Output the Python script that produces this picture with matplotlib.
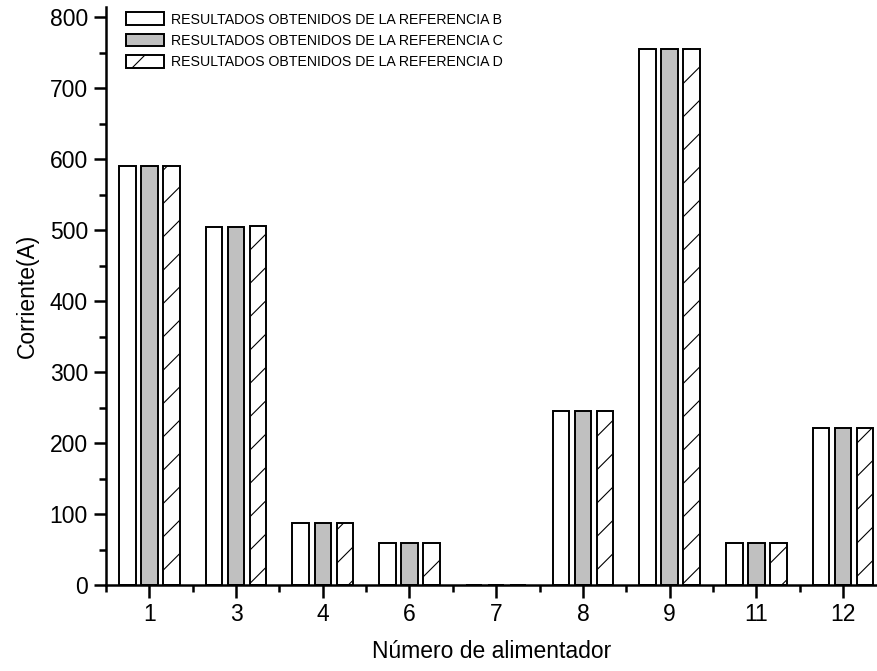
import numpy as np
import matplotlib.pyplot as plt
from matplotlib.ticker import MultipleLocator, FixedLocator

plt.rcParams['font.family'] = ['Liberation Sans', 'DejaVu Sans']
plt.rcParams['hatch.linewidth'] = 0.8

alimentadores = ['1', '3', '4', '6', '7', '8', '9', '11', '12']
ref_b = [591, 505, 87, 59, 0, 246, 755, 59, 221]
ref_c = [591, 505, 87, 59, 0, 246, 755, 59, 221]
ref_d = [591, 506, 87, 59, 0, 246, 755, 59, 221]
labels = ['RESULTADOS OBTENIDOS DE LA REFERENCIA B',
          'RESULTADOS OBTENIDOS DE LA REFERENCIA C',
          'RESULTADOS OBTENIDOS DE LA REFERENCIA D']

fig = plt.figure(figsize=(8.78, 6.71), dpi=100)
ax = fig.add_axes([0.1207, 0.128, 0.879, 0.862])

x = np.arange(len(alimentadores))
w = 0.19
off = 0.254
ax.bar(x - off, ref_b, w, facecolor='white', edgecolor='black', linewidth=1.4, label=labels[0])
ax.bar(x, ref_c, w, facecolor='#c0c0c0', edgecolor='black', linewidth=1.4, label=labels[1])
ax.bar(x + off, ref_d, w, facecolor='white', edgecolor='black', linewidth=1.4, hatch='/', label=labels[2])

ax.set_xlim(-0.5, 8.4)
ax.set_ylim(0, 815)
ax.set_xticks(x)
ax.set_xticklabels(alimentadores)
ax.xaxis.set_minor_locator(FixedLocator(np.append(x - 0.5, 8.5)))
ax.yaxis.set_major_locator(MultipleLocator(100))
ax.yaxis.set_minor_locator(MultipleLocator(50))

for s in ['top', 'right']:
    ax.spines[s].set_visible(False)
for s in ['left', 'bottom']:
    ax.spines[s].set_linewidth(1.8)

ax.tick_params(which='major', direction='out', length=9, width=1.8, labelsize=16.5, pad=4)
ax.tick_params(which='minor', direction='out', length=5, width=1.8)

ax.set_xlabel('Número de alimentador', fontsize=16.5, labelpad=10)
ax.set_ylabel('Corriente(A)', fontsize=16.5, labelpad=8)

ax.legend(loc='upper left', bbox_to_anchor=(0.015, 1.005), frameon=False, fontsize=10.2,
          handlelength=2.7, handleheight=1.0, handletextpad=0.5, labelspacing=0.5,
          borderaxespad=0.2)

fig.savefig('out.png', dpi=100)
